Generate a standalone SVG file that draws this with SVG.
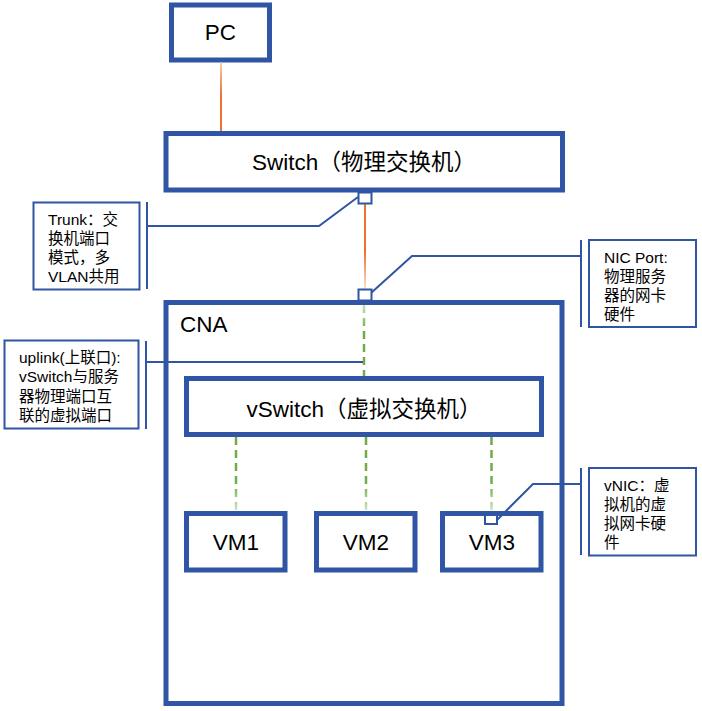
<svg xmlns="http://www.w3.org/2000/svg" width="702" height="711" viewBox="0 0 702 711">
<defs>
<linearGradient id="gPC" gradientUnits="userSpaceOnUse" x1="0" y1="63" x2="0" y2="131"><stop offset="0" stop-color="#F8CBAD"/><stop offset="0.5" stop-color="#E97132"/><stop offset="1" stop-color="#E97132"/></linearGradient>
<linearGradient id="gTr" gradientUnits="userSpaceOnUse" x1="0" y1="204" x2="0" y2="290"><stop offset="0" stop-color="#E97132"/><stop offset="0.55" stop-color="#E97132"/><stop offset="1" stop-color="#FBE3D5"/></linearGradient>
<linearGradient id="gUp" gradientUnits="userSpaceOnUse" x1="0" y1="300" x2="0" y2="378"><stop offset="0" stop-color="#D5EBC7"/><stop offset="0.4" stop-color="#70AD47"/><stop offset="1" stop-color="#70AD47"/></linearGradient>
<linearGradient id="gVM" gradientUnits="userSpaceOnUse" x1="0" y1="436" x2="0" y2="513"><stop offset="0" stop-color="#70AD47"/><stop offset="0.6" stop-color="#70AD47"/><stop offset="1" stop-color="#D5EBC7"/></linearGradient>
</defs>
<style>
.box{fill:#fff;stroke:#2F55A4;stroke-width:5}
.note{fill:#fff;stroke:#2F55A4;stroke-width:2}
.lead{fill:none;stroke:#2F55A4;stroke-width:2}
.port{fill:#fff;stroke:#2F55A4;stroke-width:2}
.big{font-family:"Liberation Sans","Noto Sans CJK SC",sans-serif;font-size:22.5px;fill:#000}
.sm{font-family:"Liberation Sans","Noto Sans CJK SC",sans-serif;font-size:15.5px;fill:#000}
.dash{fill:none;stroke-width:2.5;stroke-dasharray:8 5}
</style>
<rect width="702" height="711" fill="#fff"/>
<g id="pc"><rect class="box" x="171.5" y="5" width="98" height="55"/><text class="big" x="220.5" y="40" text-anchor="middle">PC</text></g>
<g id="switch"><rect class="box" x="166" y="133.5" width="396.5" height="56.5"/><text class="big" x="364" y="170" text-anchor="middle">Switch（物理交换机）</text></g>
<g id="cna"><rect class="box" x="166" y="302.5" width="396" height="401"/><text class="big" x="180" y="332">CNA</text></g>
<g id="vswitch"><rect class="box" x="186.5" y="378.5" width="355" height="56"/><text class="big" x="364" y="416.5" text-anchor="middle">vSwitch（虚拟交换机）</text></g>
<g id="vm1"><rect class="box" x="186.5" y="513.5" width="98.5" height="56.5"/><text class="big" x="236" y="550" text-anchor="middle">VM1</text></g>
<g id="vm2"><rect class="box" x="316.5" y="513.5" width="98.5" height="56.5"/><text class="big" x="366" y="550" text-anchor="middle">VM2</text></g>
<g id="vm3"><rect class="box" x="442.5" y="513.5" width="98.5" height="56.5"/><text class="big" x="492" y="550" text-anchor="middle">VM3</text></g>
<g id="connectors">
<line x1="221" y1="62.5" x2="221" y2="131" stroke="url(#gPC)" stroke-width="2"/>
<line x1="365" y1="204" x2="365" y2="290" stroke="url(#gTr)" stroke-width="2"/>
<line class="dash" x1="364" y1="305" x2="364" y2="376" stroke="url(#gUp)"/>
<line class="dash" x1="236" y1="437" x2="236" y2="511" stroke="url(#gVM)"/>
<line class="dash" x1="366" y1="437" x2="366" y2="511" stroke="url(#gVM)"/>
<line class="dash" x1="491.5" y1="437" x2="491.5" y2="515" stroke="url(#gVM)"/>
</g>
<g id="callouts">
<polyline class="lead" points="358,197 319,226 147,226"/>
<line class="lead" x1="147" y1="202" x2="147" y2="289"/>
<polyline class="lead" points="371,293 412,256 581,256"/>
<line class="lead" x1="581" y1="240" x2="581" y2="327"/>
<line class="lead" x1="146" y1="362" x2="363" y2="362"/>
<line class="lead" x1="146" y1="341" x2="146" y2="429"/>
<polyline class="lead" points="497,520 533,484 581,484"/>
<line class="lead" x1="581" y1="468" x2="581" y2="555"/>
</g>
<g id="ports">
<rect class="port" x="358.5" y="192.5" width="13" height="11"/>
<rect class="port" x="358.5" y="289.5" width="13" height="11"/>
<rect class="port" x="485" y="515" width="12" height="9"/>
</g>
<g id="note-trunk"><rect class="note" x="33.5" y="202.5" width="106" height="87"/>
<text class="sm" x="48" y="225">Trunk：交</text><text class="sm" x="48" y="244">换机端口</text><text class="sm" x="48" y="263">模式，多</text><text class="sm" x="48" y="282">VLAN共用</text></g>
<g id="note-nic"><rect class="note" x="589" y="240" width="107" height="87"/>
<text class="sm" x="604" y="263">NIC Port:</text><text class="sm" x="604" y="282">物理服务</text><text class="sm" x="604" y="301">器的网卡</text><text class="sm" x="604" y="320">硬件</text></g>
<g id="note-uplink"><rect class="note" x="4.5" y="340.5" width="134" height="88"/>
<text class="sm" x="19" y="363">uplink(上联口):</text><text class="sm" x="19" y="382">vSwitch与服务</text><text class="sm" x="19" y="401.5">器物理端口互</text><text class="sm" x="19" y="420.5">联的虚拟端口</text></g>
<g id="note-vnic"><rect class="note" x="589" y="468" width="107" height="87.5"/>
<text class="sm" x="604" y="491">vNIC：虚</text><text class="sm" x="604" y="510">拟机的虚</text><text class="sm" x="604" y="529">拟网卡硬</text><text class="sm" x="604" y="548">件</text></g>
</svg>
